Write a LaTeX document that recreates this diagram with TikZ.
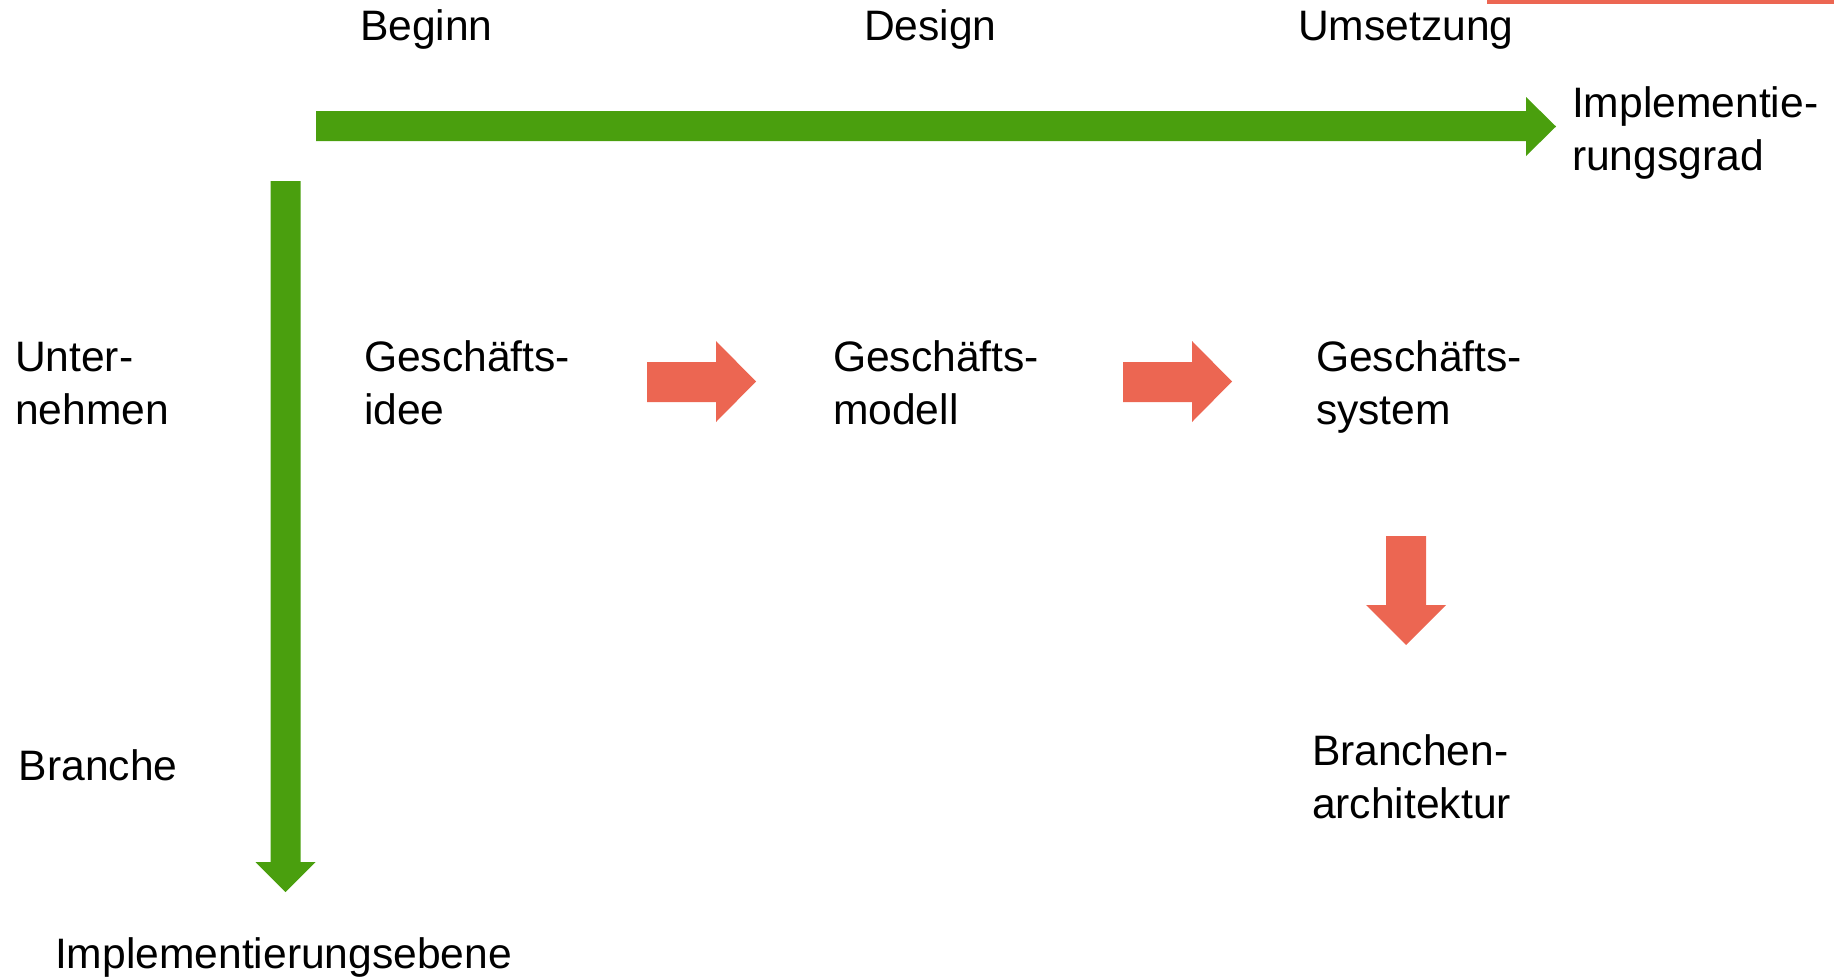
\documentclass[tikz,border=0pt]{standalone}
\usepackage{fontspec}
\setmainfont{Liberation Sans}
\definecolor{agreen}{RGB}{74,159,14}
\definecolor{ared}{RGB}{236,102,82}
\begin{document}
\begin{tikzpicture}[x=1pt,y=-1pt]
\tikzset{
  lbl/.style={anchor=base west, inner sep=0pt, outer sep=0pt, align=left, font=\fontsize{42.6}{52.5}\selectfont},
  garrow/.style={fill=agreen, draw=none},
  rarrow/.style={fill=ared, draw=none}
}
\useasboundingbox (0,0) rectangle (1834,977);
% top red line
\fill[ared] (1487,0) rectangle (1834,4);
% green horizontal arrow
\path[garrow] (316,111) -- (1526,111) -- (1526,97) -- (1556,126.5) -- (1526,156) -- (1526,141) -- (316,141) -- cycle;
% green vertical arrow
\path[garrow] (270.5,181) -- (300.5,181) -- (300.5,862) -- (315.5,862) -- (285.5,892) -- (255.5,862) -- (270.5,862) -- cycle;
% red arrows
\path[rarrow] (647,362) -- (716,362) -- (716,341) -- (756,381.5) -- (716,422) -- (716,402) -- (647,402) -- cycle;
\path[rarrow] (1123,362) -- (1192,362) -- (1192,341) -- (1232,381.5) -- (1192,422) -- (1192,402) -- (1123,402) -- cycle;
\path[rarrow] (1386,536) -- (1426,536) -- (1426,605) -- (1446,605) -- (1406,645) -- (1366,605) -- (1386,605) -- cycle;
% labels (multi-line nodes: base = last line)
\node[lbl] (beginn) at (360,40) {Beginn};
\node[lbl] (design) at (864,40) {Design};
\node[lbl] (umsetz) at (1298,40) {Umsetzung};
\node[lbl] (grad) at (1572,170) {Implementie-\\rungsgrad};
\node[lbl] (unter) at (15,424) {Unter-\\nehmen};
\node[lbl] (idee) at (364,424) {Geschäfts-\\idee};
\node[lbl] (modell) at (833,424) {Geschäfts-\\modell};
\node[lbl] (system) at (1316,424) {Geschäfts-\\system};
\node[lbl] (branche) at (19,780) {Branche};
\node[lbl] (barch) at (1312,818) {Branchen-\\architektur};
\node[lbl] (ebene) at (55,968) {Implementierungsebene};
\end{tikzpicture}
\end{document}
